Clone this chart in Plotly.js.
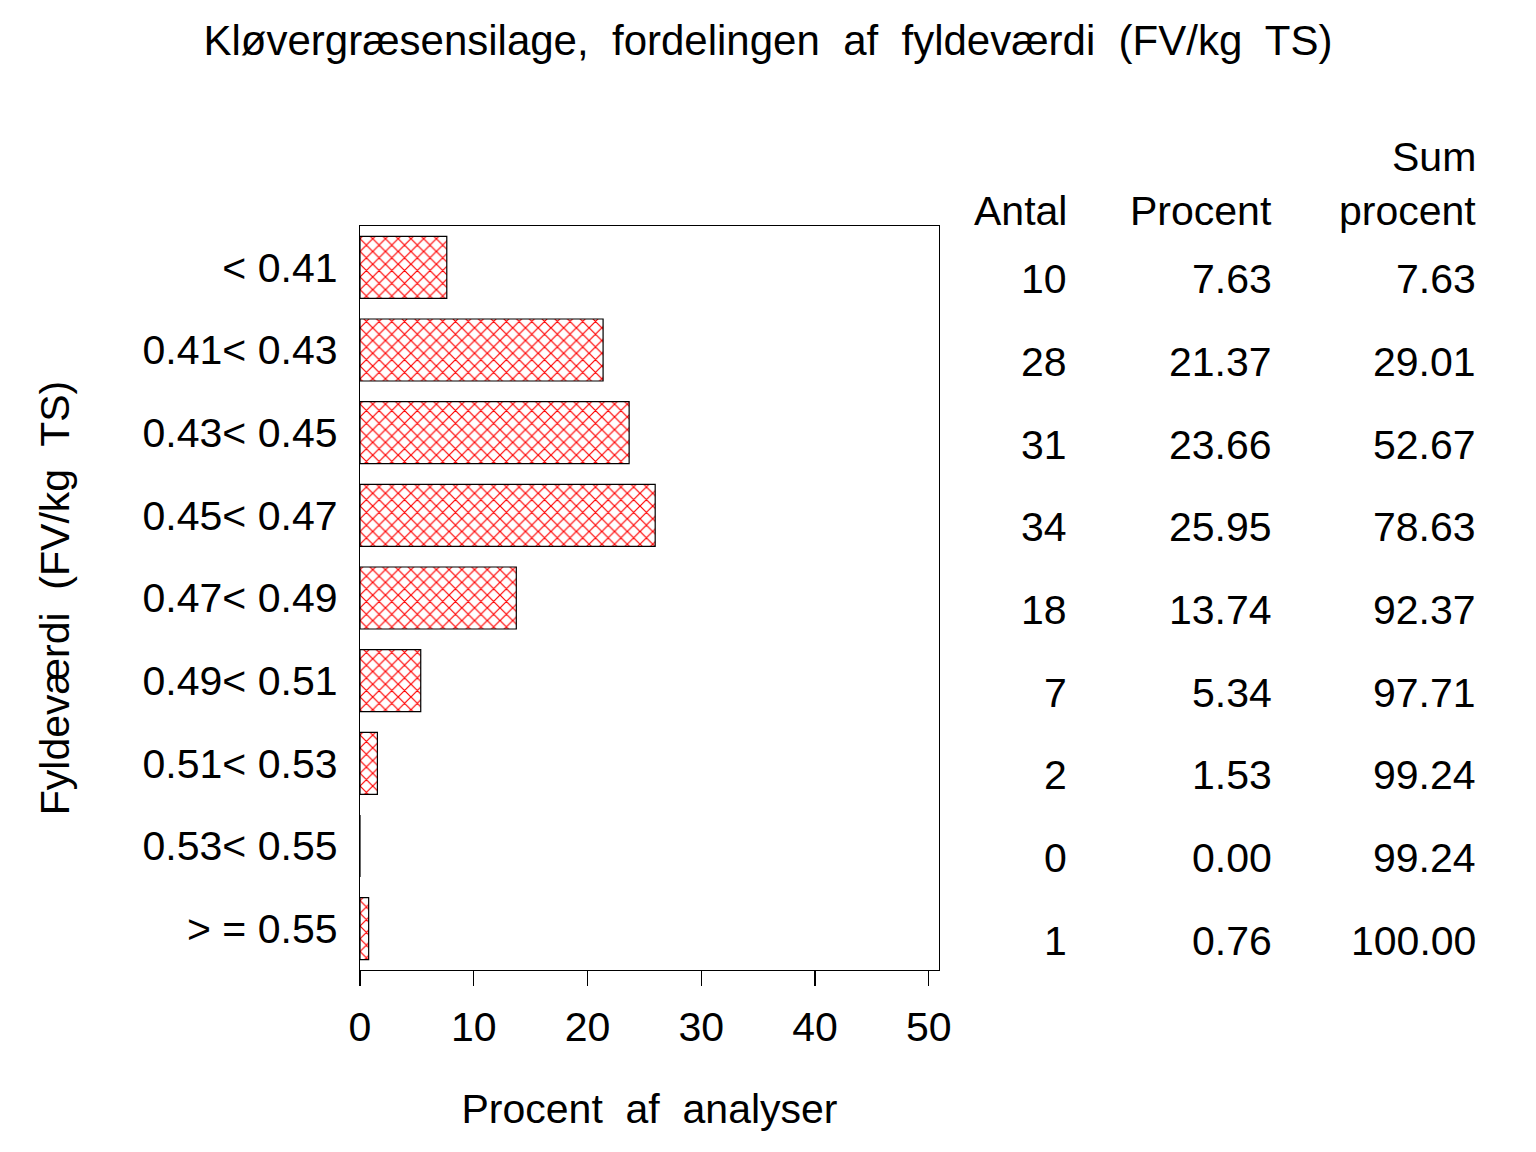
<!DOCTYPE html>
<html>
<head>
<meta charset="utf-8">
<script src="https://cdn.plot.ly/plotly-3.0.1.min.js"></script>
<style>
html,body{margin:0;padding:0;background:#fff;}
#chart{width:1536px;height:1152px;}
</style>
</head>
<body>
<div id="chart"></div>
<script>
const categories = ["< 0.41", "0.41< 0.43", "0.43< 0.45", "0.45< 0.47", "0.47< 0.49", "0.49< 0.51", "0.51< 0.53", "0.53< 0.55", "> = 0.55"];
const antal = [10, 28, 31, 34, 18, 7, 2, 0, 1];
const procent = [7.63, 21.37, 23.66, 25.95, 13.74, 5.34, 1.53, 0.00, 0.76];
const sumProcent = [7.63, 29.01, 52.67, 78.63, 92.37, 97.71, 99.24, 99.24, 100.00];
const xTicks = [0, 10, 20, 30, 40, 50];

const FONT = "Liberation Sans, Arial, sans-serif";
const FS = 41;

const L = 360, R = 939, T = 226, B = 970, W = 1536, H = 1152;
const px2paperX = p => (p - L) / (R - L);
const px2paperY = p => (B - p) / (B - T);

const trace = {
  type: 'bar',
  orientation: 'h',
  y: categories,
  x: procent,
  marker: {
    color: 'white',
    line: {color: 'black', width: 1.2},
    pattern: {shape: 'x', fgcolor: '#ff0000', bgcolor: 'white', size: 9, solidity: 0.25}
  },
  width: 0.75,
  hoverinfo: 'none'
};

const annotations = [];
const colX = [px2paperX(1069), px2paperX(1274), px2paperX(1478)];
const cols = [antal.map(v => String(v)), procent.map(v => v.toFixed(2)), sumProcent.map(v => v.toFixed(2))];
cols.forEach((col, ci) => {
  col.forEach((txt, i) => {
    annotations.push({
      xref: 'paper', yref: 'y', x: colX[ci], y: categories[i],
      xanchor: 'right', yanchor: 'middle', yshift: -12,
      text: txt, showarrow: false,
      font: {family: FONT, size: FS, color: 'black'}
    });
  });
});
const headers = [
  {t: 'Antal', c: 0, y: 211},
  {t: 'Procent', c: 1, y: 211},
  {t: 'Sum', c: 2, y: 157},
  {t: 'procent', c: 2, y: 211}
];
headers.forEach(h => {
  annotations.push({
    xref: 'paper', yref: 'paper', x: colX[h.c], y: px2paperY(h.y),
    xanchor: 'right', yanchor: 'middle',
    text: h.t, showarrow: false,
    font: {family: FONT, size: FS, color: 'black'}
  });
});

const layout = {
  width: W, height: H,
  margin: {l: L, r: W - R, t: T, b: H - B, pad: 0},
  paper_bgcolor: 'white', plot_bgcolor: 'white',
  showlegend: false,
  font: {family: FONT, size: FS, color: 'black'},
  title: {
    text: 'Kløvergræsensilage,\u00a0 fordelingen\u00a0 af\u00a0 fyldeværdi\u00a0 (FV/kg\u00a0 TS)',
    font: {family: FONT, size: 42, color: 'black'},
    x: 0.5, xref: 'container', xanchor: 'center',
    y: 1 - 40 / H, yref: 'container', yanchor: 'middle'
  },
  xaxis: {
    range: [0, 50.9],
    tickvals: xTicks,
    ticktext: xTicks.map(String),
    ticks: 'outside', ticklen: 15, tickwidth: 1.2, tickcolor: 'black',
    showline: true, linecolor: 'black', linewidth: 1.3, mirror: true,
    showgrid: false, zeroline: false,
    tickfont: {family: FONT, size: FS, color: 'black'},
    ticklabelstandoff: 5,
    title: {text: 'Procent\u00a0 af\u00a0 analyser', font: {family: FONT, size: FS, color: 'black'}, standoff: 45}
  },
  yaxis: {
    type: 'category',
    autorange: false,
    range: [8.5, -0.5],
    categoryorder: 'array', categoryarray: categories,
    ticks: '', showline: true, linecolor: 'black', linewidth: 1.3, mirror: true,
    showgrid: false, zeroline: false,
    tickfont: {family: FONT, size: FS, color: 'black'},
    ticklabelstandoff: 13,
    title: {text: 'Fyldeværdi\u00a0 (FV/kg\u00a0 TS)', font: {family: FONT, size: FS, color: 'black'}, standoff: 60}
  },
  annotations: annotations
};

Plotly.newPlot('chart', [trace], layout, {staticPlot: true, displayModeBar: false});
</script>
</body>
</html>
